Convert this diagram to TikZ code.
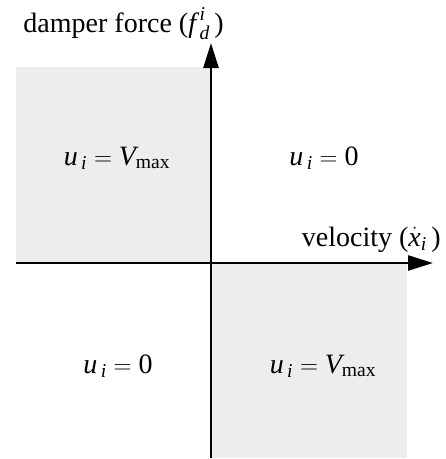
\documentclass[tikz,border=0pt]{standalone}
\usepackage{amsmath}
\usepackage{fontspec}
\setmainfont{Liberation Serif}
\usepackage{tikz}
\usetikzlibrary{arrows.meta,positioning}
\definecolor{regionGray}{RGB}{237,237,237}
\definecolor{axisInk}{RGB}{0,0,0}
\tikzset{
  axis/.style={-{Triangle[length=25pt, width=15pt]}, line width=2.6pt, draw=axisInk},
  region/.style={fill=regionGray, draw=none},
  ctrl/.style={font=\fontsize{28}{32}\selectfont, inner sep=0pt, anchor=base},
  axislabel/.style={font=\fontsize{28}{32}\selectfont, inner sep=0pt, anchor=base east}
}
\newcommand{\tvar}[1]{\textit{#1}}

\begin{document}
\begin{tikzpicture}[x=1pt, y=-1pt]
        \useasboundingbox (0,0) rectangle (446,459);
        % quadrants where the damper is switched on
        \fill[region] (16,67) rectangle (211,263);
        \fill[region] (211,263) rectangle (407,458);
        % axes
        \coordinate (origin) at (211,263);
        \coordinate (fbot) at (211,458);
        \coordinate (ftop) at (211,43);
        \coordinate (vleft) at (16,263);
        \coordinate (vright) at (433,263);
        \draw[axis] (vleft) -- (vright);
        \draw[axis] (fbot) -- (ftop);
        \node[axislabel] (flabel) at (224,32) {damper force ($\tvar{f}^{\,\tvar{i}}_{\,\tvar{d}}$\,)};
        \node[axislabel] (vlabel) at (441,246) {velocity ($\dot{\tvar{x}}_{\tvar{i}}$\,)};
        % control law in each quadrant
        \node[ctrl] (ctl) at (117,165) {$\tvar{u}_{\,\tvar{i}} = \tvar{V}_{\text{max}}$};
        \node[ctrl] (ctr) at (324,165) {$\tvar{u}_{\,\tvar{i}} = \text{0}$};
        \node[ctrl] (cbl) at (118,373) {$\tvar{u}_{\,\tvar{i}} = \text{0}$};
        \node[ctrl] (cbr) at (323,373) {$\tvar{u}_{\,\tvar{i}} = \tvar{V}_{\text{max}}$};
      \end{tikzpicture}
\end{document}
